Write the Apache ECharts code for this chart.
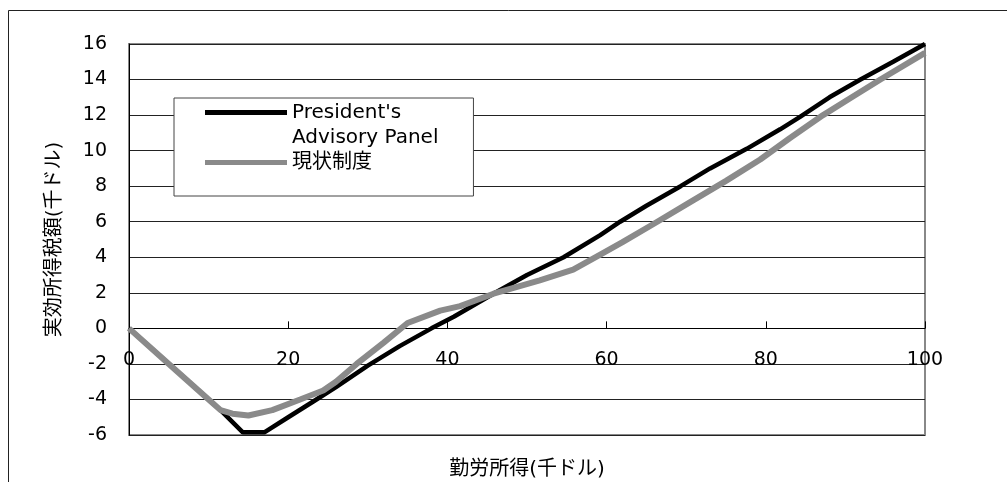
<!DOCTYPE html>
<html>
<head>
<meta charset="utf-8">
<script src="https://cdn.jsdelivr.net/npm/echarts@6/dist/echarts.min.js"></script>
<style>
  html, body { margin: 0; padding: 0; background: #fff; }
  #chart { width: 1007px; height: 482px; }
</style>
</head>
<body>
<div id="chart"></div>
<script>
// 勤労所得 (千ドル) vs 実効所得税額 (千ドル)
const panelX = [0, 5, 10, 11.5, 14.3, 17, 20, 23.2, 26, 30, 34, 38, 40.8, 46, 50, 54.6, 59.2, 61.7, 65, 69.3, 73, 77.6, 81.8, 84.3, 88, 91.9, 96, 100];
const panelY = [0, -2.0, -4.0, -4.6, -5.85, -5.85, -5.0, -4.1, -3.3, -2.1, -1.0, 0, 0.65, 2.0, 3.0, 4.0, 5.25, 6.0, 6.9, 8.0, 9.0, 10.1, 11.2, 11.9, 13.0, 14.0, 15.0, 16.0];

const currentX = [0, 5, 10, 11.5, 13, 15, 18, 21.5, 24.4, 26, 28.6, 32, 35, 39.1, 41.6, 45.8, 51.6, 55.8, 59.2, 62, 66, 70.5, 75, 79.3, 83, 87.2, 90.8, 94.4, 100];
const currentY = [0, -2.0, -4.0, -4.6, -4.8, -4.9, -4.6, -4.0, -3.5, -3.0, -2.0, -0.8, 0.3, 1.0, 1.25, 1.95, 2.7, 3.3, 4.15, 4.85, 5.9, 7.1, 8.3, 9.5, 10.7, 12.0, 13.0, 14.0, 15.5];

const seriesNames = ["President's Advisory Panel", "現状制度"];
const xTicks = { min: 0, max: 100, interval: 20 };
const yTicks = { min: -6, max: 16, interval: 2 };

const pairs = (xs, ys) => xs.map((x, i) => [x, ys[i]]);
const font = "'DejaVu Sans', 'Noto Sans CJK JP', sans-serif";

const chart = echarts.init(document.getElementById("chart"));
chart.setOption({
  backgroundColor: "#fff",
  animation: false,
  grid: {
    left: 129, right: 82, top: 44, bottom: 47,
    containLabel: false, outerBoundsMode: "none",
    show: true, borderColor: "#888", borderWidth: 2
  },
  legend: {
    orient: "vertical",
    left: 174, top: 98,
    padding: [-23, 35, 21, 31],
    itemWidth: 82, itemHeight: 5, itemGap: 0,
    icon: "rect",
    borderColor: "#444", borderWidth: 1,
    backgroundColor: "#fff",
    textStyle: { fontFamily: font, fontSize: 20, color: "#000", lineHeight: 25 },
    formatter: (n) => n === seriesNames[0] ? "\nPresident's\nAdvisory Panel" : n,
    data: seriesNames
  },
  xAxis: {
    type: "value",
    min: xTicks.min, max: xTicks.max, interval: xTicks.interval,
    name: "勤労所得(千ドル)",
    nameLocation: "middle", nameGap: 25,
    nameTextStyle: { fontFamily: font, fontSize: 20, color: "#000" },
    axisLine: { onZero: true, lineStyle: { color: "#000", width: 1 } },
    axisTick: { show: true, inside: true, length: 7, lineStyle: { color: "#000" } },
    // labels sit just under the zero line, between the 0 and -2 gridlines
    axisLabel: { fontFamily: font, fontSize: 19, color: "#000", margin: -84 },
    splitLine: { show: false }
  },
  yAxis: {
    type: "value",
    min: yTicks.min, max: yTicks.max, interval: yTicks.interval,
    name: "実効所得税額(千ドル)",
    nameLocation: "middle", nameGap: 64,
    nameTextStyle: { fontFamily: font, fontSize: 20, color: "#000" },
    axisLine: { show: true, onZero: false, lineStyle: { color: "#000", width: 1 } },
    axisTick: { show: false },
    axisLabel: { fontFamily: font, fontSize: 19, color: "#000", margin: 22 },
    splitLine: { show: true, lineStyle: { color: "#222", width: 1 } }
  },
  graphic: [{
    type: "rect", z: -1, silent: true,
    shape: { x: 8.5, y: 10.5, width: 1100, height: 600 },
    style: { fill: "none", stroke: "#222", lineWidth: 1 }
  }],
  series: [
    {
      name: seriesNames[0], type: "line", symbol: "none",
      data: pairs(panelX, panelY),
      itemStyle: { color: "#000" },
      lineStyle: { color: "#000", width: 4.5 }
    },
    {
      name: seriesNames[1], type: "line", symbol: "none",
      data: pairs(currentX, currentY),
      itemStyle: { color: "#8a8a8a" },
      lineStyle: { color: "#8a8a8a", width: 6 }
    }
  ]
});
window.addEventListener("resize", () => chart.resize());
</script>
</body>
</html>
